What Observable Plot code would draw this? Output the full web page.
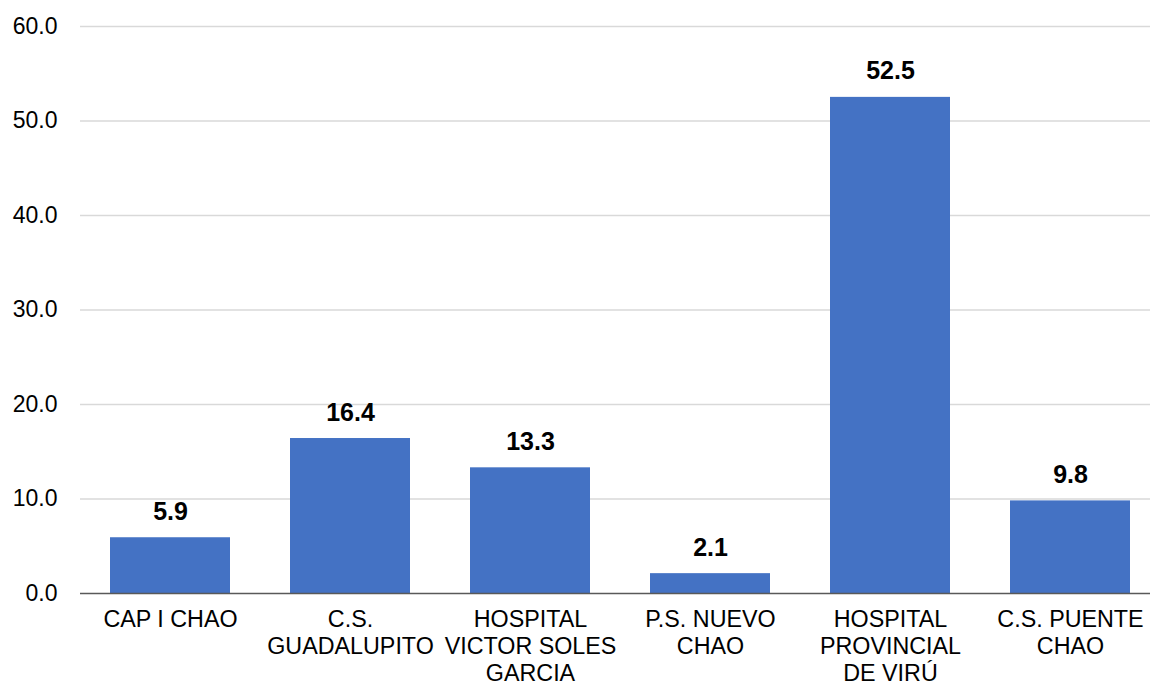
<!DOCTYPE html>
<html>
<head>
<meta charset="utf-8">
<script src="https://cdn.jsdelivr.net/npm/d3@7"></script>
<script src="https://cdn.jsdelivr.net/npm/@observablehq/plot@0.6"></script>
<style>
  html, body { margin: 0; padding: 0; background: #fff; }
  #chart svg { display: block; }
</style>
</head>
<body>
<div id="chart"></div>
<script>
const categories = ["CAP I CHAO", "C.S. GUADALUPITO", "HOSPITAL VICTOR SOLES GARCIA", "P.S. NUEVO CHAO", "HOSPITAL PROVINCIAL DE VIRÚ", "C.S. PUENTE CHAO"];
const tickLabels = ["CAP I CHAO", "C.S.\nGUADALUPITO", "HOSPITAL\nVICTOR SOLES\nGARCIA", "P.S. NUEVO\nCHAO", "HOSPITAL\nPROVINCIAL\nDE VIRÚ", "C.S. PUENTE\nCHAO"];
const values = [5.9, 16.4, 13.3, 2.1, 52.5, 9.8];
const yTicks = [0, 10, 20, 30, 40, 50, 60];

const data = categories.map((c, i) => ({category: c, value: values[i]}));
const labelOf = new Map(categories.map((c, i) => [c, tickLabels[i]]));

const chart = Plot.plot({
  width: 1150,
  height: 686,
  marginTop: 26,
  marginBottom: 93,
  marginLeft: 80,
  marginRight: 0,
  style: {fontFamily: "'Liberation Sans', Arial, sans-serif", color: "#000", background: "#fff"},
  x: {domain: categories, range: [80, 1160], paddingInner: 1/3, paddingOuter: 1/6, label: null},
  y: {domain: [0, 60], label: null},
  marks: [
    Plot.ruleY(yTicks.filter(d => d > 0), {stroke: "#d9d9d9", strokeWidth: 1.5}),
    Plot.barY(data, {x: "category", y: "value", fill: "#4472C4"}),
    Plot.ruleY([0], {stroke: "#595959", strokeWidth: 1.5}),
    Plot.text(data, {x: "category", y: "value", text: d => d.value.toFixed(1), lineAnchor: "bottom", dy: -18, fontSize: 25, fontWeight: "bold", fill: "#000"}),
    Plot.axisY({ticks: yTicks, tickFormat: d => d.toFixed(1), tickSize: 0, tickPadding: 23, fontSize: 23, label: null, fill: "#000"}),
    Plot.axisX({tickSize: 0, tickPadding: 15, fontSize: 23.3, lineHeight: 1.145, tickFormat: d => labelOf.get(d), label: null, fill: "#000"})
  ]
});
document.getElementById("chart").appendChild(chart);
</script>
</body>
</html>
